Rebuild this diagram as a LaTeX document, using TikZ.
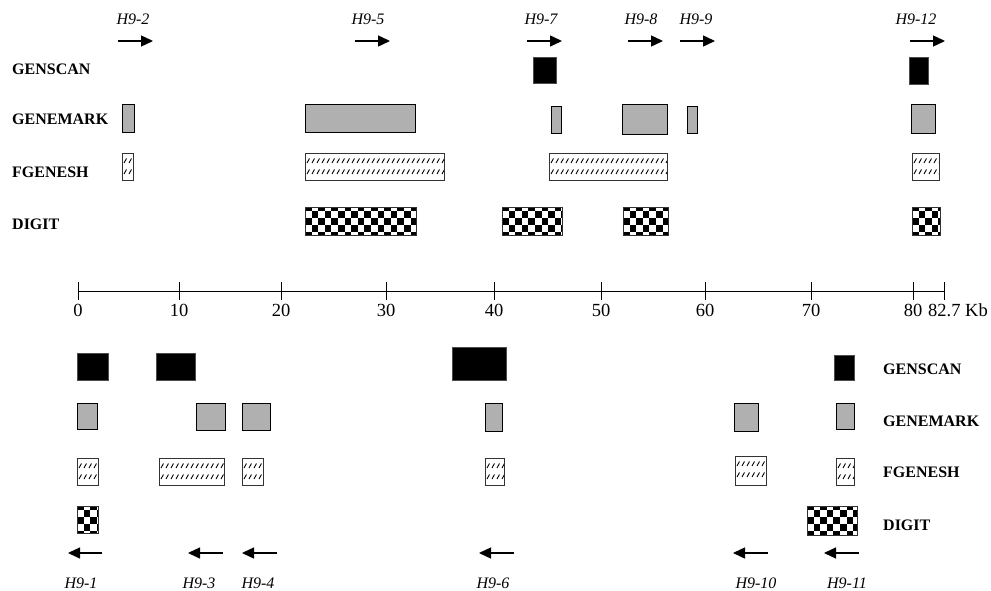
\documentclass[tikz,border=0pt]{standalone}
\usepackage{fontspec}
\setmainfont{Liberation Serif}
\usetikzlibrary{arrows.meta}
\tikzset{
  prog/.style={font=\fontsize{16}{18}\selectfont\bfseries, anchor=west, inner sep=0pt},
  gname/.style={font=\fontsize{16}{18}\selectfont\itshape, inner sep=0pt},
  num/.style={font=\fontsize{18.5}{20}\selectfont, inner sep=0pt},
  dirarrow/.style={line width=1.4pt, -{Triangle[length=12pt,width=11pt]}},
  scanbox/.style={fill=black, draw=black!70, line width=0.6pt},
  markbox/.style={fill=gray!62, draw=black, line width=0.8pt},
  boxedge/.style={draw=black!80, line width=0.9pt},
  axisline/.style={line width=0.9pt},
}
\newcommand\scanb[4]{\filldraw[scanbox] (#1,#2) rectangle (#3,#4);}
\newcommand\markb[4]{\filldraw[markbox] (#1,#2) rectangle (#3,#4);}
\newcommand\fgb[4]{%
  \begin{scope}
    \clip (#1,#2) rectangle (#3,#4);
    \pgfmathtruncatemacro\fgn{((#3)-(#1))/5}
    \foreach \k in {0,...,\fgn}{
      \foreach \dy in {8,19}{
        \draw[line width=0.9pt] ({#1+2+5*\k},{#2+\dy+2}) -- ++(2.5,-4.5);
      }}
  \end{scope}
  \draw[boxedge] (#1,#2) rectangle (#3,#4);}
\newcommand\digb[4]{%
  \begin{scope}
    \clip (#1,#2) rectangle (#3,#4);
    \pgfmathtruncatemacro\dgn{((#3)-(#1))/6.6}
    \pgfmathtruncatemacro\dgm{((#4)-(#2))/7+1}
    \foreach \i in {0,...,\dgn}{
      \foreach \j in {0,...,\dgm}{
        \pgfmathtruncatemacro\dgp{mod(\i+\j,2)}
        \ifnum\dgp=0 \fill ({#1+6.6*\i},{#2-3.5+7*\j}) rectangle ++(6.6,7);\fi
      }}
  \end{scope}
  \draw[boxedge] (#1,#2) rectangle (#3,#4);}
\begin{document}
\begin{tikzpicture}[x=1pt,y=-1pt]
\useasboundingbox (0,0) rectangle (991,591);
\fill[white] (0,0) rectangle (991,591);

% ---------- upper strand ----------
\node[prog] (lgs) at (12,69) {GENSCAN};
\node[prog] (lgm) at (12,119) {GENEMARK};
\node[prog] (lfg) at (12,172) {FGENESH};
\node[prog] (ldg) at (12,224) {DIGIT};

\foreach \nm/\cx/\xa/\xb in {H9-2/133/118/153, H9-5/368/355/390, H9-7/541/527/562,
  H9-8/641/628/663, H9-9/696/680/715, H9-12/916/910/945}{
  \node[gname] (t\nm) at (\cx,19.5) {\nm};
  \coordinate (ta\nm) at (\xa,41);
  \coordinate (tb\nm) at (\xb,41);
  \draw[dirarrow] (ta\nm) -- (tb\nm);
}

\scanb{533}{57}{556}{83}
\scanb{909}{57}{928}{84}

\markb{122}{104}{134}{132}
\markb{305}{104}{415}{132}
\markb{551}{106}{561}{133}
\markb{622}{104}{667}{134}
\markb{687}{106}{697}{133}
\markb{911}{104}{935}{133}

\fgb{122}{153}{133}{180}
\fgb{305}{153}{444}{180}
\fgb{549}{153}{667}{180}
\fgb{912}{153}{939}{180}

\digb{305}{207}{416}{235}
\digb{502}{207}{562}{235}
\digb{623}{207}{668}{235}
\digb{912}{207}{940}{235}

% ---------- scale ----------
\coordinate (ax0) at (78,291);
\coordinate (ax1) at (944,291);
\draw[axisline] (ax0) -- (ax1);
\foreach \v/\px in {0/78, 10/179, 20/281, 30/386, 40/494, 50/601, 60/705, 70/811, 80/913}{
  \draw[axisline] (\px,282) -- (\px,300);
  \node[num] (n\v) at (\px,310) {\v};
}
\draw[axisline] (944,282) -- (944,300);
\node[num, anchor=west] (nend) at (928,310) {82.7 Kb};

% ---------- lower strand ----------
\node[prog] (rgs) at (883,369) {GENSCAN};
\node[prog] (rgm) at (883,421) {GENEMARK};
\node[prog] (rfg) at (883,472.5) {FGENESH};
\node[prog] (rdg) at (883,525) {DIGIT};

\scanb{77}{353}{108}{380}
\scanb{156}{353}{195}{380}
\scanb{452}{347}{506}{380}
\scanb{834}{355}{854}{380}

\markb{77}{403}{97}{429}
\markb{196}{403}{225}{430}
\markb{242}{403}{270}{430}
\markb{485}{403}{502}{431}
\markb{734}{403}{758}{431}
\markb{836}{403}{854}{429}

\fgb{77}{458}{98}{485}
\fgb{159}{458}{224}{485}
\fgb{242}{458}{263}{485}
\fgb{485}{458}{504}{485}
\fgb{735}{456}{766}{485}
\fgb{836}{458}{854}{485}

\digb{77}{506}{98}{533}
\digb{807}{506}{857}{535}

\foreach \nm/\cx/\xa/\xb in {H9-1/81/102/68, H9-3/199/223/188, H9-4/258/277/242,
  H9-6/493/514/479, H9-10/756/768/733, H9-11/847/859/824}{
  \node[gname] (b\nm) at (\cx,583) {\nm};
  \coordinate (ba\nm) at (\xa,553);
  \coordinate (bb\nm) at (\xb,553);
  \draw[dirarrow] (ba\nm) -- (bb\nm);
}
\end{tikzpicture}
\end{document}
